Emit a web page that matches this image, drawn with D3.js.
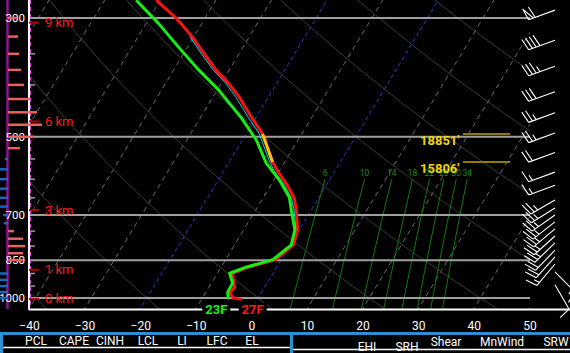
<!DOCTYPE html>
<html lang="en">
<head>
<meta charset="utf-8">
<title>Skew-T</title>
<script src="https://d3js.org/d3.v7.min.js"></script>
<style>
  body { margin: 0; background: #000; }
  svg { display: block; background: #000; font-family: Roboto, "Liberation Sans", sans-serif; }
</style>
</head>
<body>
<svg width="570" height="353"></svg>
<script>
const tempP = [278, 300, 325, 349, 375, 397, 421, 461, 492, 557, 577, 616, 652, 685, 746, 796, 848, 875, 899, 914, 954, 979, 999, 1006];
const tempC = [-50.7, -45.2, -40.3, -36.4, -32.4, -28.7, -25.3, -20.7, -17.2, -12.2, -10.5, -7.0, -4.3, -2.7, -0.3, 0.6, -1.0, -5.0, -7.3, -6.8, -5.4, -5.6, -4.5, -2.8];

const dewP = [278, 307, 340, 375, 409, 461, 507, 560, 602, 649, 685, 746, 796, 848, 875, 899, 938, 975, 1006];
const dewC = [-54.3, -47.8, -41.6, -35.5, -29.7, -22.6, -17.5, -13.2, -9.0, -5.3, -3.6, -0.8, 0.2, -1.5, -5.4, -7.8, -6.2, -6.1, -5.2];

const wetP = [325, 349, 375, 397, 421, 461, 492, 557, 577, 616, 652, 685, 746];
const wetC = [-40.7, -36.9, -32.9, -29.2, -25.9, -21.3, -17.8, -12.7, -11.1, -7.5, -4.8, -3.1, -0.6];

const dgzP = [494, 557];
const dgzLabels = ["18851'", "15806'"];

const surfLabels = ["23F", "27F"];

const isobars = [300, 500, 700, 850, 1000];
const minorP = [350, 400, 450, 550, 600, 650, 750, 800, 900, 950];
const tempTicks = [-40, -30, -20, -10, 0, 10, 20, 30, 40, 50];
const isotherms = [-80, -70, -60, -50, -40, -30, -20, -10, 0, 10, 20, 30, 40, 50];
const blueIsotherms = [-20, 0];
const thetas = [-40, -20, 0, 20, 40, 60, 80, 100, 120];
const mixRatios = [6, 10, 14, 18, 22, 26, 30, 34];

const heightNames = ["9 km", "6 km", "3 km", "1 km", "0 km"];
const heightP = [306, 468, 685, 886, 1004];

const omegaP = [300, 325, 350, 375, 400, 425, 450, 475, 500, 525, 550, 575, 600, 625, 650, 675, 700, 725, 750, 775, 800, 825, 850, 875, 900, 925, 950, 975, 1000];
const omegaV = [9, 10, 11, 13, 16, 22, 29, 34, 26, 12, -3, -8, -8, -8, -8, -8, -5, -4, 6, 15, 17, 15, 15, 0, -8, -8, -8, -8, -8];

const barbP = [290, 330, 369, 412, 451, 492, 535, 582, 616, 656, 679, 700, 721, 743, 766, 789, 814, 838, 864, 894, 945];
const barbDir = [250, 250, 250, 250, 250, 250, 250, 250, 250, 240, 238, 235, 232, 230, 228, 226, 224, 222, 220, 135, 150];
const barbSpd = [60, 40, 35, 30, 25, 25, 20, 15, 15, 25, 25, 25, 25, 25, 25, 25, 20, 20, 15, 15, 10];

const leftHead = ["PCL", "CAPE", "CINH", "LCL", "LI", "LFC", "EL"];
const leftVals = ["SFC", "0", "0", "870", "21", "", "346"];
const rightHead = ["EHI", "SRH", "Shear", "MnWind", "SRW"];

// ---- scales ----
const svg = d3.select("svg");
const xLeft = 29, xRight = 530, yBot = 309, skew = 0.605;
const x = d3.scaleLinear().domain([-40, 50]).range([29, 529.4]);
const y = d3.scaleLog().domain([300, 1000]).range([18, 298]);
const sx = (t, p) => x(t) + skew * (yBot - y(p));

svg.append("clipPath").attr("id", "plot")
   .append("rect").attr("x", xLeft).attr("y", 0).attr("width", xRight - xLeft).attr("height", yBot);

const plot = svg.append("g").attr("clip-path", "url(#plot)");
const pLine = d3.range(250, 1061, 10);

// isotherms
plot.selectAll("line.iso").data(isotherms).enter().append("line")
    .attr("x1", d => sx(d, 1060)).attr("y1", y(1060))
    .attr("x2", d => sx(d, 250)).attr("y2", y(250))
    .attr("stroke", d => blueIsotherms.includes(d) ? "#2a3bdc" : "#6a6a6a")
    .attr("stroke-width", 1)
    .attr("stroke-dasharray", d => blueIsotherms.includes(d) ? "4,3" : "5,4");

// dry adiabats
const adLine = d3.line().x(d => sx(d[0], d[1])).y(d => y(d[1]));
plot.selectAll("path.ad").data(thetas).enter().append("path")
    .attr("d", th => adLine(pLine.map(p => [(th + 273.15) * Math.pow(p / 1000, 0.286) - 273.15, p])))
    .attr("fill", "none").attr("stroke", "#3c3c3c").attr("stroke-width", 1);

// mixing ratio lines
const tdW = (w, p) => { const e = w * p / (622 + w); const l = Math.log(e / 6.112); return 243.5 * l / (17.67 - l); };
const mrP = d3.range(600, 1061, 20);
plot.selectAll("path.mr").data(mixRatios).enter().append("path")
    .attr("d", w => adLine(mrP.map(p => [tdW(w, p), p])))
    .attr("fill", "none").attr("stroke", "#137a13").attr("stroke-width", 1);
plot.selectAll("text.mr").data(mixRatios).enter().append("text")
    .attr("x", w => sx(tdW(w, 600), 600)).attr("y", y(600) - 3)
    .attr("text-anchor", "middle").attr("fill", "#1c8a1c").attr("font-size", 8.5).text(w => w);

// isobars
plot.selectAll("line.isobar").data(isobars).enter().append("line")
    .attr("x1", xLeft).attr("x2", xRight).attr("y1", d => y(d)).attr("y2", d => y(d))
    .attr("stroke", "#a0a0a0").attr("stroke-width", 2);

// profiles
const prof = d3.line().x(d => sx(d[1], d[0])).y(d => y(d[0]));
const tempPts = tempP.map((p, i) => [p, tempC[i]]);
plot.append("path").attr("d", prof(tempPts)).attr("fill", "none")
    .attr("stroke", "#ff1010").attr("stroke-width", 3).attr("stroke-linejoin", "round");

// dendritic growth zone on the temperature trace
function interpT(p) {
  for (let i = 0; i < tempP.length - 1; i++) {
    if (p >= tempP[i] && p <= tempP[i + 1]) {
      const f = (Math.log(p) - Math.log(tempP[i])) / (Math.log(tempP[i + 1]) - Math.log(tempP[i]));
      return tempC[i] + f * (tempC[i + 1] - tempC[i]);
    }
  }
  return tempC[tempC.length - 1];
}
const dgzPts = [[dgzP[0], interpT(dgzP[0])]]
  .concat(tempPts.filter(d => d[0] > dgzP[0] && d[0] < dgzP[1]))
  .concat([[dgzP[1], interpT(dgzP[1])]]);
plot.append("path").attr("d", prof(dgzPts)).attr("fill", "none")
    .attr("stroke", "#ffc400").attr("stroke-width", 3);

plot.append("path").attr("d", prof(wetP.map((p, i) => [p, wetC[i]]))).attr("fill", "none")
    .attr("stroke", "#10d8d8").attr("stroke-width", 1);

plot.append("path").attr("d", prof(dewP.map((p, i) => [p, dewC[i]]))).attr("fill", "none")
    .attr("stroke", "#16ee16").attr("stroke-width", 3).attr("stroke-linejoin", "round");

// DGZ height markers
dgzP.forEach((p, i) => {
  svg.append("line").attr("x1", 463).attr("x2", 510).attr("y1", y(p)).attr("y2", y(p))
     .attr("stroke", "#8c7c00").attr("stroke-width", 2);
  svg.append("text").attr("x", 420).attr("y", y(p) + 11).attr("fill", "#f0d800")
     .attr("font-size", 13).attr("font-weight", "bold").text(dgzLabels[i]);
});

// ---- x axis ----
svg.append("line").attr("x1", xLeft).attr("x2", 570).attr("y1", yBot + 0.5).attr("y2", yBot + 0.5)
   .attr("stroke", "#fff").attr("stroke-width", 2);
const xAxis = svg.append("g").attr("transform", `translate(0,${yBot})`)
   .call(d3.axisBottom(x).tickValues(tempTicks).tickSize(0).tickPadding(12));
xAxis.select(".domain").remove();
xAxis.selectAll("text").attr("fill", "#fff").attr("font-size", 12).attr("font-family", "Roboto, sans-serif");

// surface labels
const sfcT = tempC[tempC.length - 1], sfcTd = dewC[dewC.length - 1], sfcP = tempP[tempP.length - 1];
[[sfcTd, -12, "#16ee16", surfLabels[0]], [sfcT, 11, "#ff1a1a", surfLabels[1]]].forEach(d => {
  const cx = sx(d[0], sfcP) + d[1];
  svg.append("rect").attr("x", cx - 14).attr("y", 303).attr("width", 28).attr("height", 13).attr("fill", "#000");
  svg.append("text").attr("x", cx).attr("y", 314).attr("text-anchor", "middle")
     .attr("fill", d[2]).attr("font-size", 13).attr("font-weight", "bold").text(d[3]);
});

// ---- left axis ----
svg.append("line").attr("x1", 7.5).attr("x2", 7.5).attr("y1", 0).attr("y2", yBot)
   .attr("stroke", "#8a168e").attr("stroke-width", 2.5);
svg.append("line").attr("x1", xLeft).attr("x2", xLeft).attr("y1", 0).attr("y2", yBot + 1)
   .attr("stroke", "#fff").attr("stroke-width", 2);
svg.append("line").attr("x1", xLeft + 1.5).attr("x2", xLeft + 1.5).attr("y1", 0).attr("y2", yBot)
   .attr("stroke", "#e040e0").attr("stroke-width", 1).attr("stroke-dasharray", "4,3");
svg.selectAll("line.minor").data(minorP).enter().append("line")
   .attr("x1", xLeft + 1).attr("x2", xLeft + 6).attr("y1", d => y(d)).attr("y2", d => y(d))
   .attr("stroke", "#9a9a9a").attr("stroke-width", 1.5);
svg.selectAll("text.plab").data(isobars).enter().append("text")
   .attr("x", 25).attr("y", d => y(d) + 4).attr("text-anchor", "end")
   .attr("fill", "#fff").attr("font-size", 11.5).text(d => d);

// omega-style bars
const barX = d3.scaleLinear().domain([0, 10]).range([8, 18]);
svg.selectAll("line.om").data(omegaP).enter().append("line")
   .attr("x1", barX(0)).attr("x2", (d, i) => barX(omegaV[i]))
   .attr("y1", d => y(d)).attr("y2", d => y(d))
   .attr("stroke", (d, i) => omegaV[i] >= 0 ? "#e86060" : "#1a66c0")
   .attr("stroke-width", 2.5);

// height markers
heightP.forEach((p, i) => {
  svg.append("line").attr("x1", xLeft).attr("x2", xLeft + 10).attr("y1", y(p)).attr("y2", y(p))
     .attr("stroke", "#b00000").attr("stroke-width", 2);
  svg.append("text").attr("x", 45).attr("y", y(p) + 4.5).attr("fill", "#ff1c1c")
     .attr("font-size", 13).text(heightNames[i]);
});

// ---- wind barbs ----
const bg = svg.append("g").attr("stroke", "#fff").attr("stroke-width", 1.1).attr("fill", "none");
function barb(cx, cy, dir, spd) {
  const L = 28, F = 12, r = dir * Math.PI / 180;
  const dx = Math.sin(r), dy = -Math.cos(r);
  const px = -dy, py = dx;
  const ex = cx + dx * L, ey = cy + dy * L;
  const pt = s => [ex - dx * s, ey - dy * s];
  let path = `M${cx},${cy}L${ex},${ey}`;
  let s = Math.round(spd / 5) * 5, pos = 0;
  while (s >= 50) {
    const a = pt(pos), b = pt(pos + 5);
    path += `M${a[0]},${a[1]}L${a[0] + px * F + dx * 2},${a[1] + py * F + dy * 2}L${b[0]},${b[1]}`;
    pos += 7; s -= 50;
  }
  while (s >= 10) {
    const a = pt(pos);
    path += `M${a[0]},${a[1]}L${a[0] + px * F + dx * 3},${a[1] + py * F + dy * 3}`;
    pos += 4; s -= 10;
  }
  if (s >= 5) {
    if (pos === 0) pos = 4;
    const a = pt(pos);
    path += `M${a[0]},${a[1]}L${a[0] + px * F / 2 + dx * 1.5},${a[1] + py * F / 2 + dy * 1.5}`;
  }
  bg.append("path").attr("d", path);
}
barbP.forEach((p, i) => barb(555, y(p), barbDir[i], barbSpd[i]));

// ---- bottom table ----
svg.append("line").attr("x1", 0).attr("x2", 570).attr("y1", 333.5).attr("y2", 333.5)
   .attr("stroke", "#2b8fd2").attr("stroke-width", 3);
svg.append("line").attr("x1", 1.5).attr("x2", 1.5).attr("y1", 333).attr("y2", 353)
   .attr("stroke", "#2b8fd2").attr("stroke-width", 3);
svg.append("line").attr("x1", 291.5).attr("x2", 291.5).attr("y1", 333).attr("y2", 353)
   .attr("stroke", "#2b8fd2").attr("stroke-width", 3);
svg.append("line").attr("x1", 3).attr("x2", 290).attr("y1", 347.5).attr("y2", 347.5)
   .attr("stroke", "#fff").attr("stroke-width", 1.5);
svg.append("line").attr("x1", 293).attr("x2", 570).attr("y1", 349.5).attr("y2", 349.5)
   .attr("stroke", "#fff").attr("stroke-width", 1.5);

const leftX = [36, 74, 110, 148, 182, 217, 252];
svg.selectAll("text.lh").data(leftHead).enter().append("text")
   .attr("x", (d, i) => leftX[i]).attr("y", 345).attr("text-anchor", "middle")
   .attr("fill", "#fff").attr("font-size", 12).text(d => d);
// value row sits mostly below the bottom edge, as in the reference
svg.selectAll("text.lv").data(leftVals).enter().append("text")
   .attr("x", (d, i) => leftX[i]).attr("y", 362).attr("text-anchor", "middle")
   .attr("fill", "#fff").attr("font-size", 12).text(d => d);
const rightX = [367, 407, 446, 502, 556];
const rightY = [351, 351, 346, 346, 346];
svg.selectAll("text.rh").data(rightHead).enter().append("text")
   .attr("x", (d, i) => rightX[i]).attr("y", (d, i) => rightY[i]).attr("text-anchor", "middle")
   .attr("fill", "#fff").attr("font-size", 12).text(d => d);
</script>
</body>
</html>
